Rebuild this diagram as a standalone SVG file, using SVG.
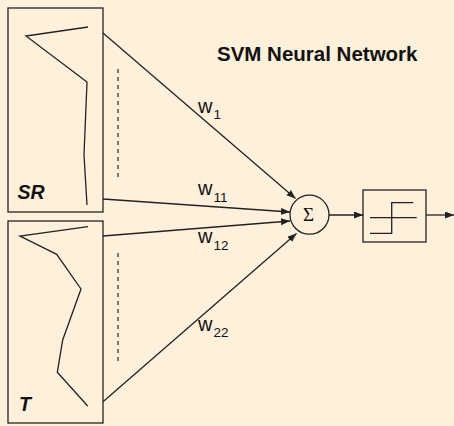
<svg xmlns="http://www.w3.org/2000/svg" width="454" height="426" viewBox="0 0 454 426">
<defs>
<style>
.box{fill:none;stroke:#222;stroke-width:1.3}
.ln{fill:none;stroke:#222;stroke-width:1.3}
.dash{fill:none;stroke:#333;stroke-width:1.3;stroke-dasharray:4 4}
.w{font-family:"Liberation Sans",Arial,sans-serif;font-size:20px;fill:#111}
.sub{font-size:13.5px}
.lbl{font-family:"Liberation Sans",Arial,sans-serif;font-size:19.5px;font-weight:bold;font-style:italic;fill:#111}
</style>
<marker id="ah" markerUnits="userSpaceOnUse" markerWidth="10" markerHeight="8" refX="9" refY="3.5" orient="auto">
<path d="M0,0 L9,3.5 L0,7 Z" fill="#222"/>
</marker>
</defs>
<rect width="454" height="426" fill="#FEF0DA"/>
<text x="217" y="61" font-family="Liberation Sans,Arial,sans-serif" font-size="20.5" font-weight="bold" fill="#111">SVM Neural Network</text>
<g id="SR">
<rect class="box" x="8" y="8" width="95" height="204"/>
<polyline class="ln" points="88,27 26,36 87,82 84,155 87,205"/>
<line class="dash" x1="118" y1="69" x2="118" y2="178"/>
<text class="lbl" x="17.5" y="199.3">SR</text>
</g>
<g id="T">
<rect class="box" x="8" y="221" width="95" height="202"/>
<polyline class="ln" points="88,226.7 20,236 56.7,254.3 81,289 62.7,340 57.3,372.3 87.7,406"/>
<line class="dash" x1="118" y1="253" x2="118" y2="363"/>
<text class="lbl" x="19" y="411">T</text>
</g>
<g id="sum">
<circle cx="309.5" cy="214.7" r="19.5" fill="none" stroke="#222" stroke-width="1.3"/>
<text x="308.5" y="220.9" text-anchor="middle" font-family="Liberation Serif,Times New Roman,serif" font-size="19" fill="#111">Σ</text>
</g>
<g id="step">
<rect class="box" x="363" y="190" width="63" height="52"/>
<line class="ln" x1="370" y1="217.7" x2="416.7" y2="217.7"/>
<polyline class="ln" points="370,233.3 391.7,233.3 391.7,202.7 413.3,202.7"/>
</g>
<g id="connectors">
<line class="ln" x1="103" y1="33" x2="295.5" y2="198.5" marker-end="url(#ah)"/>
<line class="ln" x1="103" y1="199" x2="290" y2="212" marker-end="url(#ah)"/>
<line class="ln" x1="103" y1="236" x2="290" y2="221" marker-end="url(#ah)"/>
<line class="ln" x1="103" y1="401.7" x2="296.5" y2="233.5" marker-end="url(#ah)"/>
<line class="ln" x1="329" y1="215" x2="363" y2="215" marker-end="url(#ah)"/>
<line class="ln" x1="426" y1="215" x2="454" y2="215" marker-end="url(#ah)"/>
</g>
<g id="labels">
<text class="w" x="198" y="113.3">w<tspan class="sub" dx="1" dy="6">1</tspan></text>
<text class="w" x="198" y="195">w<tspan class="sub" dx="1" dy="7">11</tspan></text>
<text class="w" x="198" y="243.3">w<tspan class="sub" dx="1" dy="6.5">12</tspan></text>
<text class="w" x="198" y="330.7">w<tspan class="sub" dx="1" dy="6.5">22</tspan></text>
</g>
</svg>
